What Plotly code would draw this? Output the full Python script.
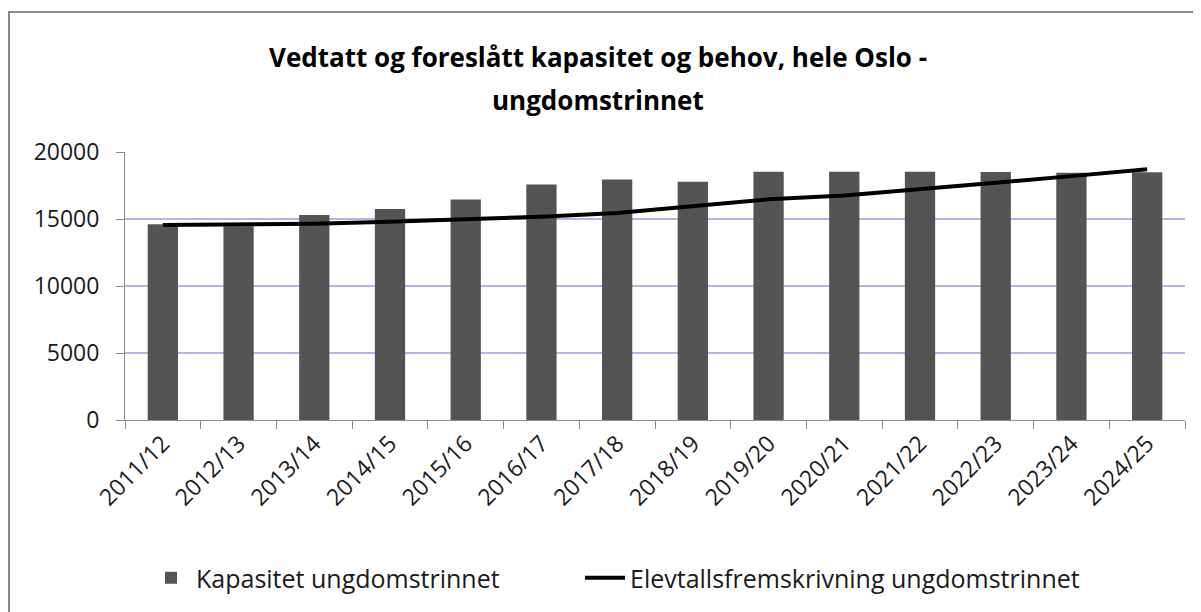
import plotly.graph_objects as go

categories = ["2011/12", "2012/13", "2013/14", "2014/15", "2015/16", "2016/17", "2017/18",
              "2018/19", "2019/20", "2020/21", "2021/22", "2022/23", "2023/24", "2024/25"]
kapasitet = [14600, 14450, 15300, 15750, 16450, 17580, 17950, 17780, 18520, 18520, 18520, 18500, 18450, 18480]
elevtall = [14550, 14570, 14650, 14800, 14980, 15170, 15450, 15970, 16470, 16750, 17200, 17700, 18200, 18720]

font_family = "Open Sans, Liberation Sans, sans-serif"

L, T, PW, PH = 117, 144, 1060, 268
BOTTOM = T + PH

fig = go.Figure()
fig.add_trace(go.Bar(x=categories, y=kapasitet, name="Kapasitet ungdomstrinnet",
                     marker=dict(color="#545454", line=dict(width=0)), width=0.4,
                     legend="legend"))
fig.add_trace(go.Scatter(x=categories, y=elevtall, name="Elevtallsfremskrivning ungdomstrinnet",
                         mode="lines", line=dict(color="black", width=4), legend="legend2"))

leg_y = (BOTTOM - 570) / PH
fig.update_layout(
    width=1201, height=612,
    margin=dict(l=L, r=1201 - L - PW, t=T, b=612 - BOTTOM),
    paper_bgcolor="white", plot_bgcolor="white",
    font=dict(family=font_family, size=22, color="#1a1a1a"),
    showlegend=True,
    legend=dict(orientation="h", x=(138 - L) / PW, xanchor="left", y=leg_y, yanchor="middle",
                font=dict(size=25), itemwidth=40, bgcolor="rgba(0,0,0,0)"),
    legend2=dict(orientation="h", x=(572 - L) / PW, xanchor="left", y=leg_y, yanchor="middle",
                 font=dict(size=25), itemwidth=40, bgcolor="rgba(0,0,0,0)"),
    annotations=[
        dict(text="<b>Vedtatt og foreslått kapasitet og behov, hele Oslo -</b>", xref="paper", yref="paper",
             x=(590 - L) / PW, y=(BOTTOM - 49) / PH, xanchor="center", yanchor="middle", showarrow=False,
             font=dict(size=26, family=font_family, color="black")),
        dict(text="<b>ungdomstrinnet</b>", xref="paper", yref="paper",
             x=(590 - L) / PW, y=(BOTTOM - 92) / PH, xanchor="center", yanchor="middle", showarrow=False,
             font=dict(size=26, family=font_family, color="black")),
    ],
    shapes=[
        dict(type="rect", xref="paper", yref="paper",
             x0=(1 - L) / PW, x1=(1230 - L) / PW,
             y0=(BOTTOM - 640) / PH, y1=(BOTTOM - 4) / PH,
             line=dict(color="#8a8a8a", width=2), fillcolor="rgba(0,0,0,0)", layer="below"),
    ],
)

fig.update_xaxes(
    type="category", tickangle=-45, showgrid=False,
    showline=True, linecolor="#8c8c8c", linewidth=1,
    ticks="outside", tickson="boundaries", ticklen=8, tickcolor="#8c8c8c",
    tickfont=dict(size=23, family=font_family, color="#1a1a1a"),
)
fig.update_yaxes(
    range=[0, 20000], tickvals=[0, 5000, 10000, 15000, 20000],
    ticktext=["0", "5000", "10000", "15000", "20000"],
    showgrid=True, gridcolor="#b4b4e6", gridwidth=1.5,
    showline=True, linecolor="#8c8c8c", linewidth=1,
    ticks="outside", ticklen=8, tickcolor="#8c8c8c", ticklabelstandoff=12,
    tickfont=dict(size=23, family=font_family, color="#1a1a1a"),
    zeroline=False,
)

fig.write_html("out.html")
